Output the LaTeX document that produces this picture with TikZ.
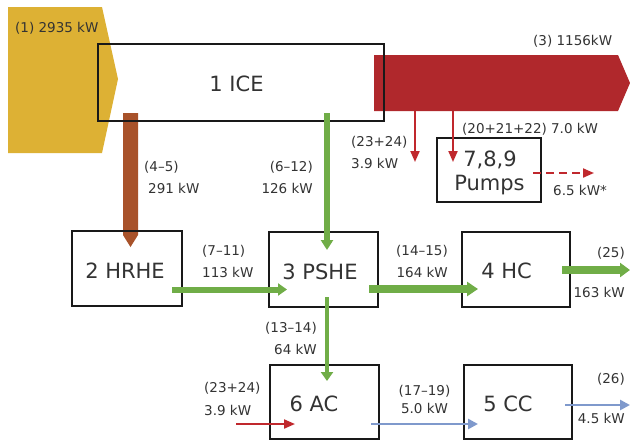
\documentclass[tikz,border=0pt]{standalone}
\usepackage{fontspec}
\setmainfont{DejaVu Sans}
\usetikzlibrary{arrows.meta}
\definecolor{yel}{HTML}{DDB134}
\definecolor{exh}{HTML}{B0282C}
\definecolor{brn}{HTML}{A8522A}
\definecolor{grn}{HTML}{70AD47}
\definecolor{blu}{HTML}{7F99CC}
\definecolor{rda}{HTML}{C0282D}
\definecolor{txt}{HTML}{333333}
\begin{document}
\begin{tikzpicture}[x=1pt,y=-1pt,
  unitbox/.style={draw=black!90, line width=2pt, inner sep=0pt},
  big/.style={text=txt, font=\fontsize{21}{24}\selectfont, inner sep=0pt},
  lbl/.style={text=txt, font=\fontsize{13.5}{16}\selectfont, inner sep=0pt},
  gflow/.style n args={3}{draw=grn, line width=#1, -{Triangle[width=#2, length=#3]}},
  rflow/.style={draw=rda, line width=2pt, -{Triangle[width=9pt, length=11pt]}},
  bflow/.style={draw=blu, line width=2.5pt, -{Triangle[width=10pt, length=10pt]}}
]
\fill[white] (0,0) rectangle (630,440);
\useasboundingbox (0,0) rectangle (630,440);

% fuel input and exhaust output
\fill[yel] (8,7) -- (102,7) -- (118,79) -- (102,153) -- (8,153) -- cycle;
\fill[exh] (374,55) -- (618,55) -- (630,83) -- (618,111) -- (374,111) -- cycle;

% coordinates for flow ends
\coordinate (brnA) at (123,113);
\coordinate (gA1) at (327,113);
\coordinate (gA2) at (327,250);
\coordinate (gB1) at (172,289.5);
\coordinate (gB2) at (287,289.5);
\coordinate (gC1) at (369,289);
\coordinate (gC2) at (478,289);
\coordinate (gD1) at (562,270);
\coordinate (gD2) at (630,270);
\coordinate (gE1) at (327,297);
\coordinate (gE2) at (327,381);
\coordinate (rA1) at (415,111);
\coordinate (rA2) at (415,162);
\coordinate (rB1) at (453,111);
\coordinate (rB2) at (453,162);
\coordinate (rC1) at (533,173);
\coordinate (rC2) at (594,173);
\coordinate (rD1) at (236,424);
\coordinate (rD2) at (295,424);
\coordinate (bA1) at (371,424);
\coordinate (bA2) at (478,424);
\coordinate (bB1) at (565,405);
\coordinate (bB2) at (630,405);

% brown flow ICE -> HRHE
\fill[brn] (brnA) -- ++(15,0) -- ++(0,122) -- ++(-7.5,12) -- ++(-7.5,-12) -- cycle;

% boxes
\node[unitbox, minimum width=286pt, minimum height=77pt] (ice) at (241,82.5) {};
\node[unitbox, minimum width=104pt, minimum height=64pt] (pumps) at (489,170) {};
\node[unitbox, minimum width=110pt, minimum height=75pt] (hrhe) at (127,268.5) {};
\node[unitbox, minimum width=109pt, minimum height=75pt] (pshe) at (323.5,269.5) {};
\node[unitbox, minimum width=108pt, minimum height=75pt] (hc) at (516,269.5) {};
\node[unitbox, minimum width=109pt, minimum height=74pt] (ac) at (324.5,402) {};
\node[unitbox, minimum width=108pt, minimum height=74pt] (cc) at (518,402) {};

% box texts
\node[big, anchor=base] (iceT) at (236.5,91) {1 ICE};
\node[big, anchor=base] (pumpsT1) at (490,166.7) {7,8,9};
\node[big, anchor=base] (pumpsT2) at (489.5,190.7) {Pumps};
\node[big, anchor=base] (hrheT) at (125,278.3) {2 HRHE};
\node[big, anchor=base] (psheT) at (320,279) {3 PSHE};
\node[big, anchor=base] (hcT) at (506.5,278) {4 HC};
\node[big, anchor=base] (acT) at (314,411.7) {6 AC};
\node[big, anchor=base] (ccT) at (508,411.7) {5 CC};

% green flows
\draw[gflow={6pt}{12pt}{10pt}] (gA1) -- (gA2);
\draw[gflow={6pt}{12pt}{9pt}] (gB1) -- (gB2);
\draw[gflow={8pt}{14pt}{11pt}] (gC1) -- (gC2);
\draw[gflow={8pt}{14pt}{10pt}] (gD1) -- (gD2);
\draw[gflow={4pt}{12pt}{9pt}] (gE1) -- (gE2);

% red small flows
\draw[rflow] (rA1) -- (rA2);
\draw[rflow] (rB1) -- (rB2);
\draw[rflow, dash pattern=on 8pt off 5pt] (rC1) -- (rC2);
\draw[rflow] (rD1) -- (rD2);

% blue flows
\draw[bflow] (bA1) -- (bA2);
\draw[bflow] (bB1) -- (bB2);

% labels
\node[lbl, anchor=base west] (l1) at (15,32) {(1) 2935 kW};
\node[lbl, anchor=base west] (l3) at (533,45) {(3) 1156kW};
\node[lbl, anchor=base west] (l23a) at (351,146.7) {(23+24)};
\node[lbl, anchor=base west] (l23b) at (351,168) {3.9 kW};
\node[lbl, anchor=base west] (l20) at (462,133) {(20+21+22) 7.0 kW};
\node[lbl, anchor=base west] (l65) at (553,195) {6.5 kW*};
\node[lbl, anchor=base west] (l45a) at (144,171.7) {(4–5)};
\node[lbl, anchor=base west] (l45b) at (148,193.7) {291 kW};
\node[lbl, anchor=base east] (l612a) at (313,171.7) {(6–12)};
\node[lbl, anchor=base east] (l612b) at (313,193.7) {126 kW};
\node[lbl, anchor=base west] (l711a) at (202,255) {(7–11)};
\node[lbl, anchor=base west] (l711b) at (202,277) {113 kW};
\node[lbl, anchor=base east] (l1415a) at (448,255) {(14–15)};
\node[lbl, anchor=base east] (l1415b) at (448,277) {164 kW};
\node[lbl, anchor=base east] (l25a) at (625,257) {(25)};
\node[lbl, anchor=base east] (l25b) at (625,297) {163 kW};
\node[lbl, anchor=base east] (l1314a) at (317,332) {(13–14)};
\node[lbl, anchor=base east] (l1314b) at (317,354) {64 kW};
\node[lbl, anchor=base west] (l2324a) at (204,392) {(23+24)};
\node[lbl, anchor=base west] (l2324b) at (204,415) {3.9 kW};
\node[lbl, anchor=base] (l1719a) at (424.5,395) {(17–19)};
\node[lbl, anchor=base] (l1719b) at (424.5,413) {5.0 kW};
\node[lbl, anchor=base east] (l26a) at (625,383) {(26)};
\node[lbl, anchor=base east] (l26b) at (625,423) {4.5 kW};
\end{tikzpicture}
\end{document}
